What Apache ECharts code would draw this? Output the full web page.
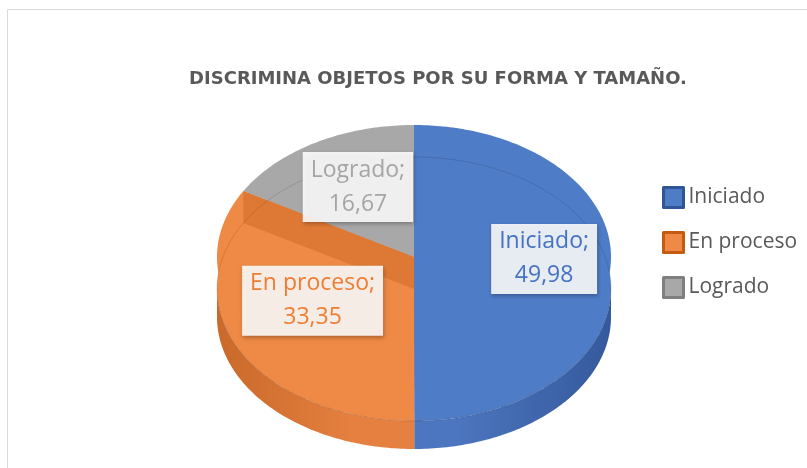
<!DOCTYPE html>
<html>
<head>
<meta charset="utf-8">
<script src="https://cdn.jsdelivr.net/npm/echarts@6/dist/echarts.min.js"></script>
<style>html,body{margin:0;padding:0;background:#fff}#c{width:807px;height:468px}</style>
</head>
<body>
<div id="c"></div>
<script>
// ---- data ----
const categories = ['Iniciado', 'En proceso', 'Logrado'];
const values = [49.98, 33.35, 16.67];
const titleText = 'DISCRIMINA OBJETOS POR SU FORMA Y TAMAÑO.';

// ---- styles ----
const topColors   = ['#4F7CC7', '#EE8A45', '#A8A8A8'];
const bandColors  = ['#4570BC', '#DE7935', '#9A9A9A'];
const sideLight   = ['#4C76BF', '#E58040', '#A0A0A0'];
const sideDark    = ['#35599C', '#C9692A', '#858585'];
const labelColors = ['#4472C4', '#ED7D31', '#A5A5A5'];
const legendBorder = ['#2F5597', '#C55A11', '#7F7F7F'];

const CX = 414, CY = 257, RX = 197, RY = 132, BEVEL = 32, DEPTH = 60;
const total = values.reduce((a, b) => a + b, 0);
const cum = [];
values.reduce((acc, v, i) => { cum[i] = acc; return acc + v; }, 0);

function pt(t, dy, f) {
  f = f == null ? 1 : f;
  return [CX + f * RX * Math.sin(t), CY + dy - f * RY * Math.cos(t)];
}
function arc(a, b, dy, n) {
  const out = [];
  for (let k = 0; k <= n; k++) out.push(pt(a + (b - a) * k / n, dy));
  return out;
}
function fmt(v) { return v.toFixed(2).replace('.', ','); }

function renderItem(params, api) {
  const i = params.dataIndex;
  const v = api.value(0);
  const t0 = cum[i] / total * Math.PI * 2;
  const t1 = (cum[i] + v) / total * Math.PI * 2;
  const N = Math.max(8, Math.ceil((t1 - t0) * 60));
  const children = [];
  // lower (bevel) layer
  children.push({
    type: 'polygon', z2: 1,
    shape: { points: [[CX, CY + BEVEL]].concat(arc(t0, t1, BEVEL, N)) },
    style: { fill: topColors[i] }
  });
  // side wall (front half only)
  const a = Math.max(t0, Math.PI / 2), b = Math.min(t1, Math.PI * 1.5);
  if (a < b) {
    const n2 = Math.max(8, Math.ceil((b - a) * 60));
    const pts = arc(a, b, BEVEL, n2).concat(arc(b, a, DEPTH, n2));
    children.push({
      type: 'polygon', z2: 1,
      shape: { points: pts },
      style: {
        fill: {
          type: 'linear', x: CX - RX, y: 0, x2: CX + RX, y2: 0, global: true,
          colorStops: [
            { offset: 0, color: sideDark[i] },
            { offset: 0.35, color: sideLight[i] },
            { offset: 0.6, color: sideLight[i] },
            { offset: 1, color: sideDark[i] }
          ]
        }
      }
    });
  }
  // top face
  children.push({
    type: 'polygon', z2: 2,
    shape: { points: [[CX, CY]].concat(arc(t0, t1, 0, N)) },
    style: { fill: topColors[i] }
  });
  // bevel band along end edge
  children.push({
    type: 'polygon', z2: 3,
    shape: { points: [pt(t1, 0), [CX, CY], [CX, CY + BEVEL], pt(t1, BEVEL)] },
    style: { fill: bandColors[i] }
  });
  // faint bevel line
  children.push({
    type: 'polyline', z2: 4,
    shape: { points: arc(t0, t1, BEVEL, N) },
    style: { stroke: 'rgba(0,0,0,0.12)', lineWidth: 1, fill: null }
  });
  // label
  const m = (t0 + t1) / 2;
  const lp = pt(m, 0, 0.63);
  children.push({
    type: 'text', z2: 10,
    x: lp[0] + 6, y: lp[1] + 2,
    style: {
      text: categories[i] + ';\n' + fmt(v),
      fill: labelColors[i],
      font: '23px "Open Sans", sans-serif',
      lineHeight: 34,
      align: 'center', verticalAlign: 'middle',
      backgroundColor: 'rgba(255,255,255,0.88)',
      padding: [2, 8, 0, 8],
      shadowColor: 'rgba(0,0,0,0.3)', shadowBlur: 4, shadowOffsetX: 1, shadowOffsetY: 2
    }
  });
  return { type: 'group', children: children };
}

const chart = echarts.init(document.getElementById('c'));
chart.setOption({
  animation: false,
  title: {
    text: titleText,
    left: 433, top: 65, textAlign: 'center',
    textStyle: { fontFamily: 'DejaVu Sans', fontSize: 18, fontWeight: 'bold', color: '#595959' }
  },
  legend: {
    orient: 'vertical', left: 657, top: 181,
    itemWidth: 20, itemHeight: 20, itemGap: 22,
    textStyle: { fontFamily: 'Open Sans', fontSize: 21, color: '#595959' },
    data: categories.map((c, i) => ({
      name: c, icon: 'rect',
      itemStyle: { color: topColors[i], borderColor: legendBorder[i], borderWidth: 3 }
    })),
    selectedMode: false
  },
  graphic: [{
    type: 'rect', silent: true,
    shape: { x: 7.5, y: 9.5, width: 830, height: 500 },
    style: { fill: null, stroke: '#D9D9D9', lineWidth: 1 }
  }],
  series: [
    {
      type: 'custom', name: 'slices',
      coordinateSystem: 'none',
      renderItem: renderItem,
      data: values.map((v, i) => ({ name: categories[i], value: [v] }))
    },
    {
      type: 'pie', name: 'legend',
      radius: [0, 0], center: [CX, CY], silent: true,
      label: { show: false }, labelLine: { show: false },
      data: values.map((v, i) => ({ name: categories[i], value: v, itemStyle: { color: topColors[i] } }))
    }
  ]
});
</script>
</body>
</html>
